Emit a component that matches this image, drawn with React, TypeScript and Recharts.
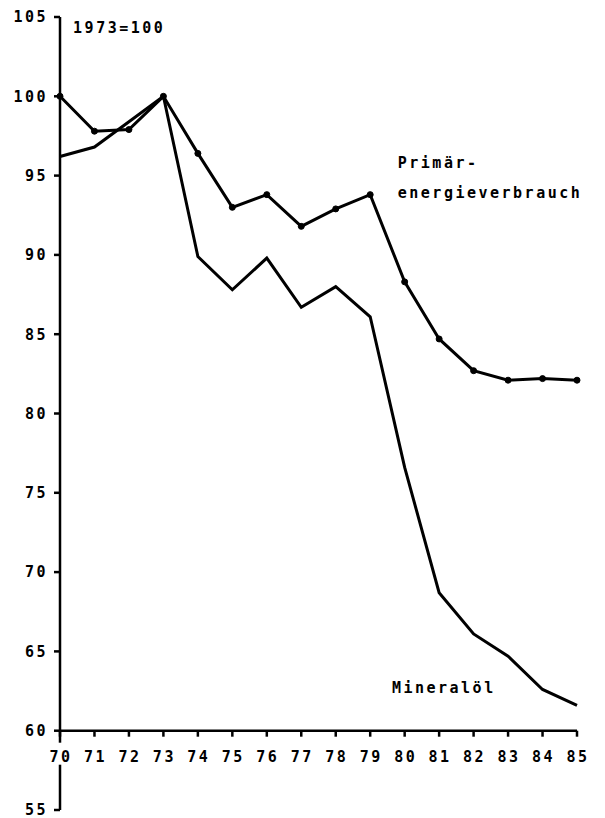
import React from "react";
import { LineChart, Line, XAxis, YAxis, ReferenceLine, ReferenceDot } from "recharts";

const years = [70, 71, 72, 73, 74, 75, 76, 77, 78, 79, 80, 81, 82, 83, 84, 85];
const primaer = [100, 97.8, 97.9, 100, 96.4, 93.0, 93.8, 91.8, 92.9, 93.8, 88.3, 84.7, 82.7, 82.1, 82.2, 82.1];
const mineraloel = [96.2, 96.8, 98.4, 100, 89.9, 87.8, 89.8, 86.7, 88.0, 86.1, 76.6, 68.7, 66.1, 64.7, 62.6, 61.6];
const yTicks = [55, 60, 65, 70, 75, 80, 85, 90, 95, 100, 105];

const notes = [
  { x: 70.38, y: 104.3, text: "1973=100" },
  { x: 79.8, y: 95.8, text: "Primär-" },
  { x: 79.8, y: 93.9, text: "energieverbrauch" },
  { x: 79.63, y: 62.7, text: "Mineralöl" },
];

const data = years.map((year, i) => ({ year, primaer: primaer[i], oel: mineraloel[i] }));

const font = {
  fontFamily: "'DejaVu Sans Mono', monospace",
  fontWeight: 700,
  fontSize: 15,
  letterSpacing: 2.5,
};

function XTick({ cx, cy, label }: { cx?: number; cy?: number; label: number }) {
  if (cx == null || cy == null) return null;
  return (
    <g>
      <line x1={cx} y1={cy} x2={cx} y2={cy + 6} stroke="#000" strokeWidth={2.5} />
      <rect x={cx - 12} y={cy + 12} width={24} height={22} fill="#fff" />
      <text x={cx + 1} y={cy + 31} textAnchor="middle" fill="#000" style={font}>
        {label}
      </text>
    </g>
  );
}

function Note({ cx, cy, text }: { cx?: number; cy?: number; text: string }) {
  if (cx == null || cy == null) return null;
  return (
    <text x={cx} y={cy + 5} fill="#000" style={font}>
      {text}
    </text>
  );
}

export default function App() {
  return (
    <div style={{ width: 589, height: 810, background: "#fff" }}>
      <LineChart width={589} height={810} data={data} margin={{ top: 9, right: 20, bottom: 8, left: 0 }}>
        <XAxis dataKey="year" type="number" domain={[70, 85]} hide />
        <YAxis
          type="number"
          domain={[55, 105]}
          ticks={yTicks}
          interval={0}
          width={52}
          tickSize={6}
          tickMargin={6}
          axisLine={{ stroke: "#000", strokeWidth: 2.5 }}
          tickLine={{ stroke: "#000", strokeWidth: 2.5 }}
          tick={{ fill: "#000", ...font }}
        />
        <ReferenceLine y={60} stroke="#000" strokeWidth={2.5} ifOverflow="visible" />
        {years.map((yr) => (
          <ReferenceDot
            key={yr}
            x={yr}
            y={60}
            r={0}
            ifOverflow="visible"
            shape={(p: any) => <XTick cx={p.cx} cy={p.cy} label={yr} />}
          />
        ))}
        {notes.map((n) => (
          <ReferenceDot
            key={n.text}
            x={n.x}
            y={n.y}
            r={0}
            ifOverflow="visible"
            shape={(p: any) => <Note cx={p.cx} cy={p.cy} text={n.text} />}
          />
        ))}
        <Line
          type="linear"
          dataKey="oel"
          stroke="#000"
          strokeWidth={3}
          dot={false}
          isAnimationActive={false}
        />
        <Line
          type="linear"
          dataKey="primaer"
          stroke="#000"
          strokeWidth={3}
          dot={{ r: 3, fill: "#000", stroke: "#000", strokeWidth: 1 }}
          isAnimationActive={false}
        />
      </LineChart>
    </div>
  );
}
